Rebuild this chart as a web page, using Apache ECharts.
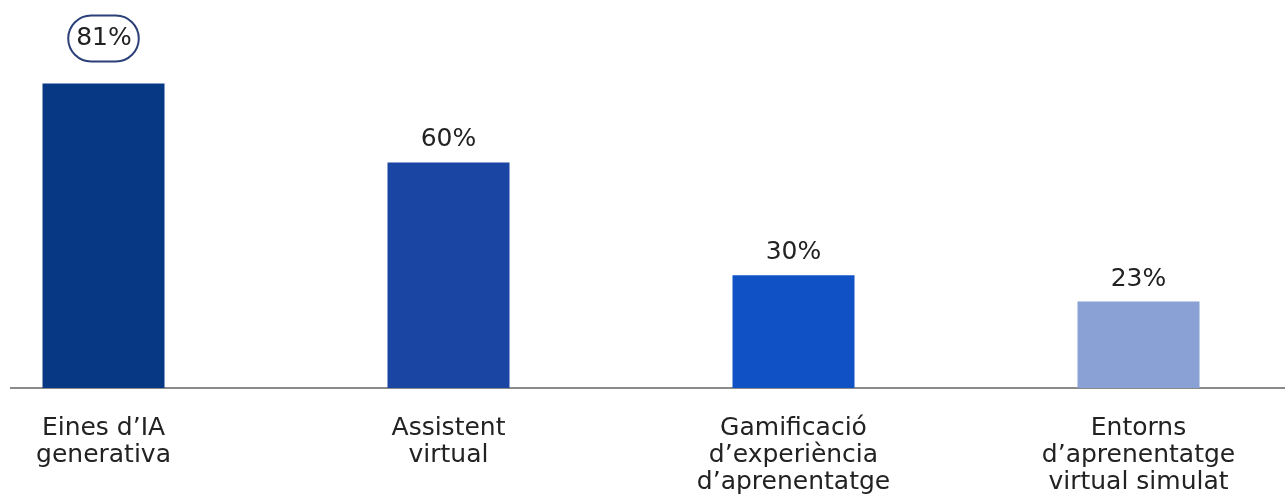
<!DOCTYPE html>
<html><head><meta charset="utf-8">
<script src="https://cdn.jsdelivr.net/npm/echarts@6/dist/echarts.min.js"></script>
<style>html,body{margin:0;padding:0;background:#fff;overflow:hidden;width:1285px;height:497px}#c{width:1380px;height:497px;margin-left:-69px}</style>
</head><body><div id="c"></div>
<script>
const categories = ["Eines d\u2019IA\ngenerativa", "Assistent\nvirtual", "Gamificaci\u00f3\nd\u2019experi\u00e8ncia\nd\u2019aprenentatge", "Entorns\nd\u2019aprenentatge\nvirtual simulat"];
const values = [81, 60, 30, 23];
const barColors = ["#073883", "#1a45a3", "#1052c6", "#8aa1d5"];

const chart = echarts.init(document.getElementById('c'));
chart.setOption({
  animation: false,
  grid: { left: 0, right: 0, top: 12, bottom: 109 },
  xAxis: {
    type: 'category', data: categories,
    axisLine: { show: false }, axisTick: { show: false },
    axisLabel: { fontFamily: 'DejaVu Sans', fontSize: 25, color: '#222', lineHeight: 27, margin: 27, interval: 0 }
  },
  yAxis: { type: 'value', min: 0, max: 100, show: false, splitLine: { show: false } },
  graphic: [{ type: 'line', shape: { x1: 79, y1: 388, x2: 1380, y2: 388 }, style: { stroke: '#8a8a8a', lineWidth: 2 } }],
  series: [{
    type: 'bar', barWidth: 122,
    data: values.map((v, i) => {
      const d = { value: v, itemStyle: { color: barColors[i] } };
      if (i === 0) d.label = { borderColor: '#2b3f78', borderWidth: 2, borderRadius: 23, padding: [10, 7, 9, 8], distance: 22 };
      return d;
    }),
    label: { show: true, position: 'top', distance: 9, formatter: '{c}%', fontFamily: 'DejaVu Sans', fontSize: 25, lineHeight: 27, color: '#222' }
  }]
});
</script></body></html>
